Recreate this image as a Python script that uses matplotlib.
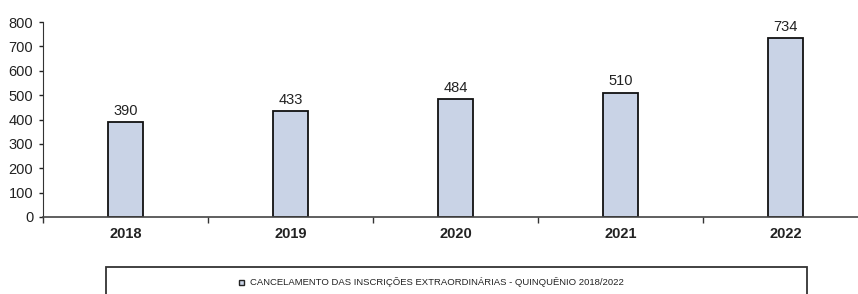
import matplotlib.pyplot as plt
from matplotlib.patches import Rectangle

anos = ['2018', '2019', '2020', '2021', '2022']
cancelamentos = [390, 433, 484, 510, 734]
legenda = 'CANCELAMENTO DAS INSCRIÇÕES EXTRAORDINÁRIAS - QUINQUÊNIO 2018/2022'

narrow = ['Liberation Sans Narrow', 'Liberation Sans', 'DejaVu Sans']
plt.rcParams['font.family'] = narrow

fig = plt.figure(figsize=(8.58, 2.94), dpi=100)
ax = fig.add_axes([43 / 858, 77 / 294, 825 / 858, 195 / 294])

x = range(len(anos))
bars = ax.bar(x, cancelamentos, width=0.21, color='#c9d3e6', edgecolor='#111111', linewidth=1.3)
for b, v in zip(bars, cancelamentos):
    ax.text(b.get_x() + b.get_width() / 2, v + 18, str(v), ha='center', va='bottom',
            fontsize=10.5, color='#222222')

ax.set_xlim(-0.5, 4.5)
ax.set_ylim(0, 800)
ax.set_yticks(range(0, 801, 100))
ax.tick_params(axis='y', labelsize=10.5, length=3, width=1, direction='out', pad=4, colors='#222222')

ax.set_xticks(list(x))
ax.set_xticklabels(anos, fontweight='bold', fontsize=10.5)
ax.set_xticks([i + 0.5 for i in range(-1, 5)], minor=True)
ax.tick_params(axis='x', which='major', length=0, pad=7, colors='#222222')
ax.tick_params(axis='x', which='minor', length=4, width=1, direction='out', color='#333333')

for s in ['top', 'right']:
    ax.spines[s].set_visible(False)
ax.spines['left'].set_color('#333333')
ax.spines['bottom'].set_color('#444444')
ax.spines['bottom'].set_linewidth(1.2)

# caixa da legenda
fig.patches.append(Rectangle((106 / 858, -0.1), 701 / 858, 0.1 + 27 / 294, transform=fig.transFigure,
                             fill=False, edgecolor='#333333', linewidth=1.3))
fig.patches.append(Rectangle((239 / 858, 9.5 / 294), 5 / 858, 5 / 294, transform=fig.transFigure,
                             facecolor='#c9d3e6', edgecolor='#222222', linewidth=1))
fig.text(250 / 858, 12 / 294, legenda, fontsize=6.8, ha='left', va='center', color='#222222')

fig.savefig('out.png', dpi=100)
